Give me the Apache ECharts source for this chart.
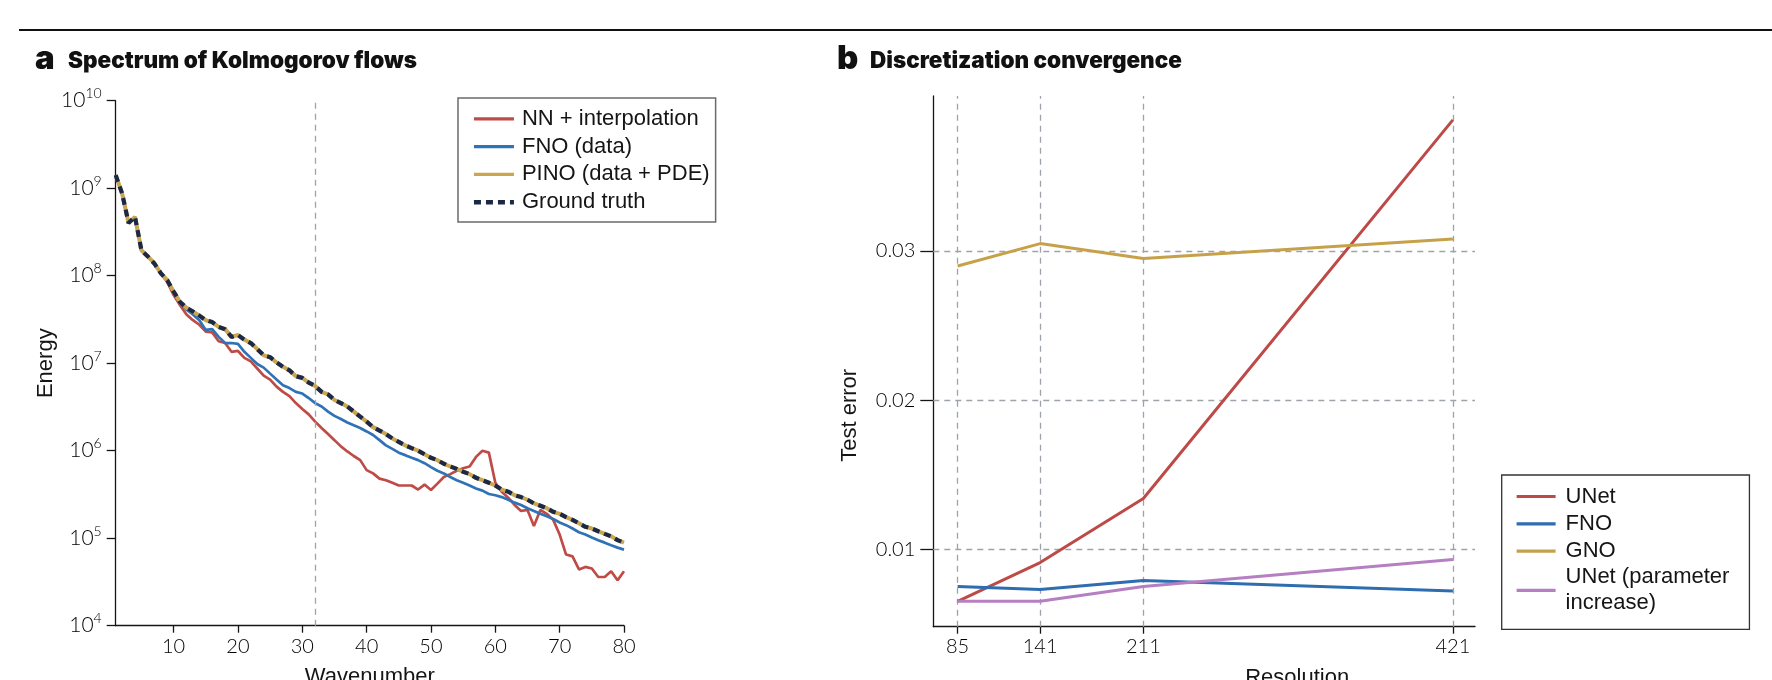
<!DOCTYPE html>
<html><head><meta charset="utf-8">
<script src="https://cdn.jsdelivr.net/npm/echarts@6/dist/echarts.min.js"></script>
<style>html,body{margin:0;padding:0;background:#fff}#c{width:1772px;height:680px}</style>
</head><body><div id="c"></div><script>
// ---------- Panel a: Spectrum of Kolmogorov flows ----------
const wavenumbers = [1,2,3,4,5,6,7,8,9,10,11,12,13,14,15,16,17,18,19,20,
  21,22,23,24,25,26,27,28,29,30,31,32,33,34,35,36,37,38,39,40,
  41,42,43,44,45,46,47,48,49,50,51,52,53,54,55,56,57,58,59,60,
  61,62,63,64,65,66,67,68,69,70,71,72,73,74,75,76,77,78,79,80];
const nnInterpolation = [1.41e9,8.7e8,4.0e8,4.7e8,1.95e8,1.66e8,1.38e8,1.07e8,8.5e7,6.0e7,
  4.6e7,3.6e7,3.1e7,2.75e7,2.3e7,2.25e7,1.78e7,1.7e7,1.35e7,1.38e7,
  1.15e7,1.05e7,8.7e6,7.2e6,6.5e6,5.4e6,4.7e6,4.2e6,3.5e6,3.0e6,
  2.6e6,2.15e6,1.82e6,1.55e6,1.32e6,1.12e6,9.8e5,8.7e5,7.8e5,6.0e5,
  5.5e5,4.8e5,4.6e5,4.3e5,4.0e5,4.0e5,4.0e5,3.6e5,4.1e5,3.55e5,
  4.2e5,5.0e5,5.4e5,5.9e5,6.3e5,6.6e5,8.5e5,1.0e6,9.5e5,4.3e5,
  3.4e5,2.9e5,2.4e5,2.05e5,2.1e5,1.38e5,2.1e5,1.9e5,1.62e5,1.1e5,
  6.5e4,6.2e4,4.4e4,4.7e4,4.5e4,3.6e4,3.6e4,4.2e4,3.3e4,4.2e4];
const fnoData = [1.41e9,8.7e8,4.0e8,4.7e8,1.95e8,1.66e8,1.38e8,1.07e8,8.9e7,6.6e7,
  5.0e7,4.1e7,3.6e7,3.1e7,2.4e7,2.45e7,2.0e7,1.7e7,1.7e7,1.66e7,
  1.35e7,1.15e7,9.8e6,8.9e6,7.6e6,6.5e6,5.6e6,5.2e6,4.7e6,4.5e6,
  4.0e6,3.5e6,3.2e6,2.8e6,2.5e6,2.3e6,2.1e6,1.95e6,1.82e6,1.66e6,
  1.51e6,1.32e6,1.15e6,1.05e6,9.5e5,8.9e5,8.3e5,7.8e5,7.2e5,6.5e5,
  5.9e5,5.5e5,5.0e5,4.6e5,4.3e5,4.0e5,3.7e5,3.5e5,3.2e5,3.1e5,
  2.95e5,2.75e5,2.55e5,2.4e5,2.2e5,2.05e5,1.9e5,1.78e5,1.66e5,1.51e5,
  1.41e5,1.29e5,1.17e5,1.1e5,1.02e5,9.5e4,8.9e4,8.3e4,7.8e4,7.4e4];
const pinoData = [1.41e9,8.7e8,4.0e8,4.7e8,1.95e8,1.66e8,1.38e8,1.07e8,8.9e7,6.6e7,
  5.0e7,4.3e7,3.9e7,3.5e7,3.1e7,2.95e7,2.6e7,2.45e7,2.0e7,2.1e7,
  1.86e7,1.7e7,1.45e7,1.23e7,1.17e7,1.02e7,9.1e6,8.3e6,7.1e6,6.8e6,
  6.0e6,5.5e6,4.7e6,4.4e6,3.8e6,3.5e6,3.2e6,2.8e6,2.45e6,2.15e6,
  1.86e6,1.7e6,1.55e6,1.38e6,1.26e6,1.15e6,1.07e6,1.0e6,9.1e5,8.3e5,
  7.8e5,7.1e5,6.6e5,6.2e5,5.75e5,5.4e5,4.9e5,4.6e5,4.3e5,4.0e5,
  3.6e5,3.4e5,3.1e5,2.95e5,2.75e5,2.5e5,2.35e5,2.2e5,2.0e5,1.9e5,
  1.74e5,1.62e5,1.48e5,1.35e5,1.29e5,1.2e5,1.12e5,1.05e5,9.5e4,8.9e4];
const groundTruth = [1.41e9,8.7e8,4.0e8,4.7e8,1.95e8,1.66e8,1.38e8,1.07e8,8.9e7,6.6e7,
  5.0e7,4.3e7,3.9e7,3.5e7,3.1e7,2.95e7,2.6e7,2.45e7,2.0e7,2.1e7,
  1.86e7,1.7e7,1.45e7,1.23e7,1.17e7,1.02e7,9.1e6,8.3e6,7.1e6,6.8e6,
  6.0e6,5.5e6,4.7e6,4.4e6,3.8e6,3.5e6,3.2e6,2.8e6,2.45e6,2.15e6,
  1.86e6,1.7e6,1.55e6,1.38e6,1.26e6,1.15e6,1.07e6,1.0e6,9.1e5,8.3e5,
  7.8e5,7.1e5,6.6e5,6.2e5,5.75e5,5.4e5,4.9e5,4.6e5,4.3e5,4.0e5,
  3.6e5,3.4e5,3.1e5,2.95e5,2.75e5,2.5e5,2.35e5,2.2e5,2.0e5,1.9e5,
  1.74e5,1.62e5,1.48e5,1.35e5,1.29e5,1.2e5,1.12e5,1.05e5,9.5e4,8.9e4];
const wavenumberTicks = [10,20,30,40,50,60,70,80];
const cutoffWavenumber = [32];

// ---------- Panel b: Discretization convergence ----------
const resolutions = [85,141,211,421];
const unetError = [0.0065,0.0091,0.0134,0.0388];
const fnoError = [0.0075,0.0073,0.0079,0.0072];
const gnoError = [0.0290,0.0305,0.0295,0.0308];
const unetParamError = [0.0065,0.0065,0.0075,0.0093];
const testErrorTicks = [0.01,0.02,0.03];

const pairs = (xs, ys) => xs.map((x, i) => [x, ys[i]]);
const SANS = 'Liberation Sans, Arial, sans-serif';
const TICKF = 'Lato, Inter, sans-serif';
const INK = '#151515';
const gridLine = {type:[6,5], color:'#9ea3aa', width:1.3};

const chart = echarts.init(document.getElementById('c'), null, {renderer:'canvas'});
const option = {
  animation:false,
  backgroundColor:'#fff',
  graphic:[
    {type:'line', shape:{x1:19,y1:30,x2:1772,y2:30}, style:{stroke:'#111',lineWidth:2}},
    {type:'text', x:35, y:59, style:{text:'a', font:'900 33px Inter', fill:'#111', verticalAlign:'middle'}},
    {type:'text', x:68, y:61, style:{text:'Spectrum of Kolmogorov flows', font:'900 22.5px Inter', fill:'#111', verticalAlign:'middle'}},
    {type:'text', x:837, y:59, style:{text:'b', font:'900 33px Inter', fill:'#111', verticalAlign:'middle'}},
    {type:'text', x:870, y:61, style:{text:'Discretization convergence', font:'900 22.5px Inter', fill:'#111', verticalAlign:'middle'}}
  ],
  grid:[
    {left:115.7, top:100.7, width:508.3, height:525, outerBoundsMode:'none'},
    {left:933.3, top:96, width:541.7, height:530.7, outerBoundsMode:'none'}
  ],
  xAxis:[
    {type:'value', gridIndex:0, min:1, max:80,
     name:'Wavenumber', nameLocation:'middle', nameGap:40,
     nameTextStyle:{fontFamily:SANS, fontSize:22, color:INK},
     axisLine:{show:true, lineStyle:{color:INK, width:1.3}},
     axisTick:{show:true, length:7, customValues:wavenumberTicks, lineStyle:{color:INK,width:1.3}},
     axisLabel:{customValues:wavenumberTicks, margin:11, fontFamily:TICKF, fontWeight:300, fontSize:20, color:'#000'},
     splitLine:{show:false}},
    {type:'value', gridIndex:1, min:68.5, max:436,
     name:'Resolution', nameLocation:'middle', nameGap:40,
     nameTextStyle:{fontFamily:SANS, fontSize:22, color:INK, padding:[0,0,0,186]},
     axisLine:{show:true, lineStyle:{color:INK, width:1.3}},
     axisTick:{show:true, length:7, customValues:resolutions, lineStyle:{color:INK,width:1.3}},
     axisLabel:{customValues:resolutions, margin:10, fontFamily:TICKF, fontWeight:300, fontSize:20, color:'#000'},
     splitLine:{show:false}}
  ],
  yAxis:[
    {type:'log', gridIndex:0, logBase:10, min:1e4, max:1e10,
     name:'Energy', nameLocation:'middle', nameGap:56, nameRotate:90,
     nameTextStyle:{fontFamily:SANS, fontSize:22, color:INK},
     axisLine:{show:true, lineStyle:{color:INK, width:1.3}},
     axisTick:{show:true, length:9, lineStyle:{color:INK,width:1.3}},
     minorTick:{show:false},
     axisLabel:{margin:14, color:'#000',
       formatter:function(v){return '{b|10}{s|' + Math.round(Math.log10(v)) + '}';},
       rich:{b:{fontFamily:TICKF, fontWeight:300, fontSize:21, lineHeight:28, color:'#000'},
             s:{fontFamily:TICKF, fontWeight:300, fontSize:14, lineHeight:14, verticalAlign:'top', color:'#000'}}},
     splitLine:{show:false}},
    {type:'value', gridIndex:1, min:0.0048, max:0.0404,
     name:'Test error', nameLocation:'middle', nameGap:72, nameRotate:90,
     nameTextStyle:{fontFamily:SANS, fontSize:22, color:INK, padding:[0,108,0,0]},
     axisLine:{show:true, lineStyle:{color:INK, width:1.3}},
     axisTick:{show:true, length:13, customValues:testErrorTicks, lineStyle:{color:INK,width:1.3}},
     axisLabel:{customValues:testErrorTicks, margin:18, fontFamily:TICKF, fontWeight:300, fontSize:20, color:'#000',
       formatter:function(v){return v.toFixed(2);}},
     splitLine:{show:false}}
  ],
  legend:[
    {orient:'vertical', left:458, top:98, padding:[9.8,6,8.8,13.7], itemGap:5.8,
     itemWidth:40, itemHeight:14, borderColor:'#6b6b6b', borderWidth:1.5, backgroundColor:'#fff',
     selectedMode:false, itemStyle:{opacity:0}, lineStyle:{width:3.2},
     textStyle:{fontFamily:SANS, fontSize:22, lineHeight:21, color:INK, padding:[0,0,0,3]},
     data:['NN + interpolation','FNO (data)','PINO (data + PDE)',
       {name:'Ground truth', lineStyle:{width:4.5, type:[7,5]}}]},
    {orient:'vertical', left:1501.7, top:475, padding:[9.5,20,15,13.3], itemGap:3.3,
     itemWidth:39, itemHeight:14, borderColor:'#333', borderWidth:1.3, backgroundColor:'#fff',
     selectedMode:false, itemStyle:{opacity:0}, lineStyle:{width:3.2},
     textStyle:{fontFamily:SANS, fontSize:22, lineHeight:24, color:INK, padding:[0,0,0,5]},
     formatter:function(n){return n === 'UNet (parameter increase)' ? 'UNet (parameter\nincrease)' : n;},
     data:['UNet','FNO','GNO',{name:'UNet (parameter increase)', textStyle:{lineHeight:26, padding:[0,0,-26,5]}}]}
  ],
  series:[
    {name:'NN + interpolation', type:'line', xAxisIndex:0, yAxisIndex:0, symbol:'none',
     data:pairs(wavenumbers, nnInterpolation), color:'#bf4b47',
     lineStyle:{color:'#bf4b47', width:2.7}, z:2,
     markLine:{silent:true, symbol:'none', label:{show:false},
       lineStyle:{type:[6,5], color:'#a3a3a3', width:1.3},
       data:cutoffWavenumber.map(v=>({xAxis:v}))}},
    {name:'FNO (data)', type:'line', xAxisIndex:0, yAxisIndex:0, symbol:'none',
     data:pairs(wavenumbers, fnoData), color:'#2f72b5',
     lineStyle:{color:'#2f72b5', width:2.7}, z:3},
    {name:'PINO (data + PDE)', type:'line', xAxisIndex:0, yAxisIndex:0, symbol:'none',
     data:pairs(wavenumbers, pinoData), color:'#c9a64f',
     lineStyle:{color:'#c9a64f', width:4}, z:4},
    {name:'Ground truth', type:'line', xAxisIndex:0, yAxisIndex:0, symbol:'none',
     data:pairs(wavenumbers, groundTruth), color:'#1c2946',
     lineStyle:{color:'#1c2946', width:4.2, type:[7,5]}, z:5},

    {name:'UNet', type:'line', xAxisIndex:1, yAxisIndex:1, symbol:'none',
     data:pairs(resolutions, unetError), color:'#be4a47',
     lineStyle:{color:'#be4a47', width:3}, z:3,
     markLine:{silent:true, symbol:'none', label:{show:false}, lineStyle:gridLine, z:1,
       data:resolutions.map(v=>({xAxis:v})).concat(testErrorTicks.map(v=>({yAxis:v})))}},
    {name:'FNO', type:'line', xAxisIndex:1, yAxisIndex:1, symbol:'none',
     data:pairs(resolutions, fnoError), color:'#2d6db0',
     lineStyle:{color:'#2d6db0', width:3}, z:3},
    {name:'GNO', type:'line', xAxisIndex:1, yAxisIndex:1, symbol:'none',
     data:pairs(resolutions, gnoError), color:'#c6a14a',
     lineStyle:{color:'#c6a14a', width:3}, z:3},
    {name:'UNet (parameter increase)', type:'line', xAxisIndex:1, yAxisIndex:1, symbol:'none',
     data:pairs(resolutions, unetParamError), color:'#b57fc2',
     lineStyle:{color:'#b57fc2', width:3}, z:3}
  ]
};
chart.setOption(option);
</script></body></html>
